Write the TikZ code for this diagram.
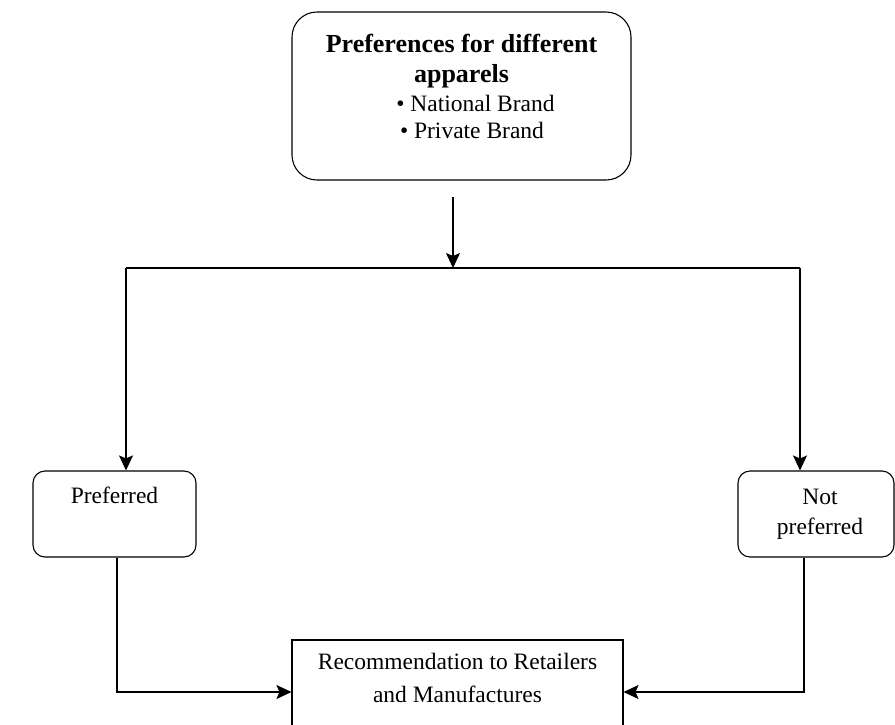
\documentclass[tikz,border=0pt]{standalone}
\usepackage{fontspec}
\setmainfont{Liberation Serif}
\usepackage{tikz}
\usetikzlibrary{arrows.meta}
\definecolor{ink}{HTML}{000000}
\newcommand{\headline}{\fontsize{26}{28}\selectfont\bfseries}

\begin{document}
\begin{tikzpicture}[x=1pt,y=-1pt,
  box/.style={draw=ink,line width=1.1pt,align=center,inner sep=0pt,
    font=\fontsize{23.5}{27}\selectfont},
  bigbox/.style={box,rounded corners=25pt},
  smallbox/.style={box,rounded corners=12pt,minimum height=86pt},
  plain/.style={draw=ink,line width=1.1pt},
  arr/.style={plain,-{Stealth[length=15pt,width=14pt,inset=3pt]}}]
  \useasboundingbox (0,0) rectangle (895,724);

  \node[bigbox,minimum width=339pt,minimum height=168pt,text depth=20pt] (pref) at (461.5,96)
    {\headline Preferences for different\\[3pt] \headline apparels\\[2pt]
     \hspace*{28pt}\textbullet\ National Brand\\
     \hspace*{21pt}\textbullet\ Private Brand};
  \node[smallbox,minimum width=163pt] (prefd) at (114.5,514) {Preferred\\[3pt]\strut};
  \node[smallbox,minimum width=156pt] (notprefd) at (816,514)
    {\hspace*{8pt}Not\\[3pt]\hspace*{8pt}preferred};
  \node[box,minimum width=331pt,minimum height=104pt,text depth=29pt] (rec) at (457.5,692)
    {Recommendation to Retailers\\[6pt] and Manufactures};

  % split point under the top box
  \coordinate (drop) at (453,197);
  \coordinate (split) at (453,268);
  \coordinate (lft) at (126,268);
  \coordinate (rgt) at (800,268);

  \draw[arr] (drop) -- (split);
  \draw[plain] (lft) -- (rgt);
  \draw[arr] (lft) -- (lft |- prefd.north);
  \draw[arr] (rgt) -- (rgt |- notprefd.north);
  \draw[arr] ([xshift=2.5pt]prefd.south) |- (rec.west);
  \draw[arr] ([xshift=-12pt]notprefd.south) |- (rec.east);
\end{tikzpicture}
\end{document}
